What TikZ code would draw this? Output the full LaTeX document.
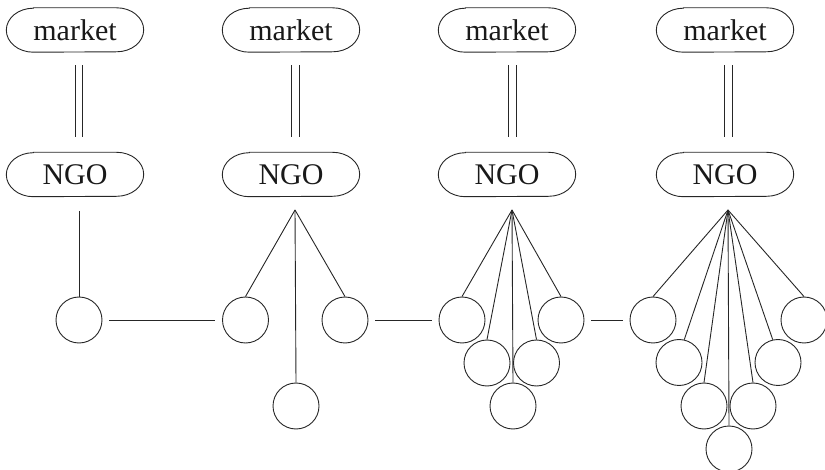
\documentclass[tikz,border=0pt]{standalone}
\usepackage{fontspec}
\setmainfont{Liberation Serif}
\begin{document}
\begin{tikzpicture}[x=1pt,y=-1pt,
  pill/.style={rectangle, minimum width=137pt, minimum height=44pt, inner sep=0pt, font=\fontsize{30}{32}\selectfont, text=black!90},
  ball/.style={draw=black!85, line width=0.9pt, circle, minimum size=46pt, inner sep=0pt},
  link/.style={draw=black!85, line width=0.9pt},
  dbl/.style={link, shorten <=13pt, shorten >=15pt},
  hlink/.style={link, shorten <=7pt, shorten >=7pt}]
\newcommand\pilloutline[1]{\draw[link] ([xshift=27pt]#1.north west) -- ([xshift=-27pt]#1.north east)
  arc[start angle=90,end angle=-90,x radius=27pt,y radius=22pt] -- ([xshift=27pt]#1.south west)
  arc[start angle=270,end angle=90,x radius=27pt,y radius=22pt] -- cycle;}
\useasboundingbox (0,0) rectangle (825,470);
% pills
\node[pill] (m1) at (75,30) {market};
\node[pill] (m2) at (291,30) {market};
\node[pill] (m3) at (507,30) {market};
\node[pill] (m4) at (725,30) {market};
\node[pill] (n1) at (75,174.5) {NGO};
\node[pill] (n2) at (291,174.5) {NGO};
\node[pill] (n3) at (507,174.5) {NGO};
\node[pill] (n4) at (725,174.5) {NGO};
\pilloutline{m1}\pilloutline{m2}\pilloutline{m3}\pilloutline{m4}
\pilloutline{n1}\pilloutline{n2}\pilloutline{n3}\pilloutline{n4}
% double connectors market = NGO
\draw[dbl] ([xshift=0pt]m1.south) -- ([xshift=0pt]n1.north);
\draw[dbl] ([xshift=7pt]m1.south) -- ([xshift=7pt]n1.north);
\draw[dbl] ([xshift=0pt]m2.south) -- ([xshift=0pt]n2.north);
\draw[dbl] ([xshift=8pt]m2.south) -- ([xshift=8pt]n2.north);
\draw[dbl] ([xshift=1pt]m3.south) -- ([xshift=1pt]n3.north);
\draw[dbl] ([xshift=9pt]m3.south) -- ([xshift=9pt]n3.north);
\draw[dbl] ([xshift=-1pt]m4.south) -- ([xshift=-1pt]n4.north);
\draw[dbl] ([xshift=7pt]m4.south) -- ([xshift=7pt]n4.north);
% apex points
\coordinate (a1) at (79,211);
\coordinate (a2) at (295,210);
\coordinate (a3) at (512,210);
\coordinate (a4) at (728,210);
% circles
\node[ball] (b1) at (79,320) {};
\node[ball] (b2l) at (245.5,320) {};
\node[ball] (b2r) at (345,320) {};
\node[ball] (b2d) at (296,406) {};
\node[ball] (b3l) at (462,320) {};
\node[ball] (b3r) at (561,320) {};
\node[ball] (b3ml) at (487,363) {};
\node[ball] (b3mr) at (536.5,363) {};
\node[ball] (b3d) at (513,406) {};
\node[ball] (b4l) at (653,320) {};
\node[ball] (b4r) at (804,320) {};
\node[ball] (b4ml) at (679,362.5) {};
\node[ball] (b4mr) at (778,362.5) {};
\node[ball] (b4dl) at (704,406) {};
\node[ball] (b4dr) at (753,406) {};
\node[ball] (b4b) at (729,449) {};
% links
\draw[link] (a1) -- (b1.north);
\draw[link] (a2) -- (b2l.north);
\draw[link] (a2) -- (b2r.north);
\draw[link] (a2) -- (b2d.north);
\draw[link] (a3) -- (b3l.north);
\draw[link] (a3) -- (b3r.north);
\draw[link] (a3) -- (b3ml.north);
\draw[link] (a3) -- (b3mr.north);
\draw[link] (a3) -- (b3d.north);
\draw[link] (a4) -- (b4l.north);
\draw[link] (a4) -- (b4r.north);
\draw[link] (a4) -- (b4ml.77);
\draw[link] (a4) -- (b4mr.103);
\draw[link] (a4) -- (b4dl.north);
\draw[link] (a4) -- (b4dr.north);
\draw[link] (a4) -- (b4b.north);
\draw[hlink] (b1) -- (b2l);
\draw[hlink] (b2r) -- (b3l);
\draw[hlink] (b3r) -- (b4l);
\end{tikzpicture}
\end{document}
